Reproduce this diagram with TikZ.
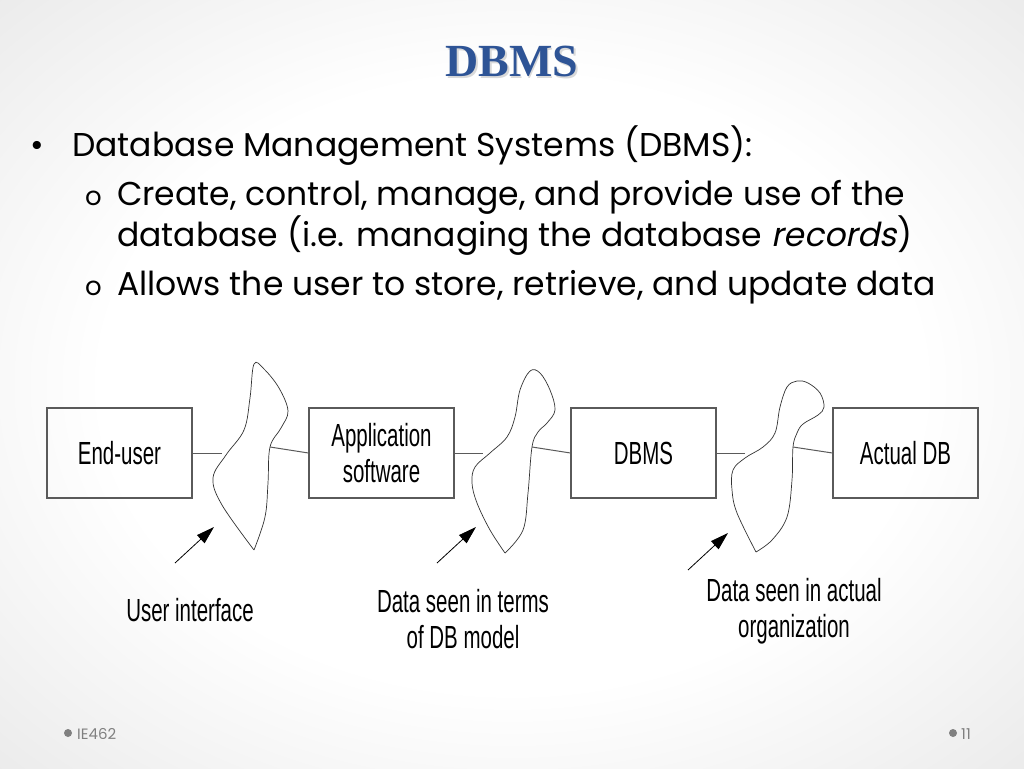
\documentclass[tikz,border=0pt]{standalone}
\usepackage{fontspec}
\setmainfont{Poppins}[ItalicFont=Poppins, ItalicFeatures={FakeSlant=0.2}]
\newfontfamily\narrowfont[FakeStretch=0.64]{Liberation Sans}
\newfontfamily\titlefont{Liberation Serif}
\usetikzlibrary{arrows.meta}
\definecolor{titleblue}{RGB}{46,84,150}
\definecolor{boxgray}{RGB}{90,90,90}
\pgfdeclareradialshading{slidebg}{\pgfpoint{0bp}{0bp}}{color(0bp)=(white); color(20bp)=(white); color(40bp)=(gray!20); color(50bp)=(gray!30); color(72bp)=(gray!40)}

\begin{document}
\begin{tikzpicture}[x=1pt, y=-1pt,
   box/.style={draw=boxgray, line width=1.1pt, minimum width=145pt, minimum height=90pt, inner sep=0pt, align=center, font=\narrowfont\fontsize{32}{36}\selectfont},
   link/.style={draw=boxgray, line width=1pt},
   iface/.style={draw=black!80, line width=0.7pt},
   pointer/.style={line width=0.8pt, -{Triangle[length=18pt, width=11pt]}},
   caption/.style={align=center, font=\narrowfont\fontsize{32}{36}\selectfont},
   body/.style={anchor=base west, inner sep=0pt, font=\fontsize{33}{38}\selectfont},
   sub/.style={anchor=base west, inner sep=0pt, font=\fontsize{26}{30}\selectfont},
   footer/.style={anchor=base west, inner sep=0pt, text=gray, font=\fontsize{15}{18}\selectfont}]

   % 背景
   \useasboundingbox (0,0) rectangle (1024,768);
   \shade [shading=slidebg] (0,0) rectangle (1024,768);

   % 表題
   \node [anchor=base, text=gray!30, font=\titlefont\bfseries\fontsize{46}{50}\selectfont] (titleshadow) at (513.5,78.5) {DBMS};
   \node [anchor=base, text=titleblue, font=\titlefont\bfseries\fontsize{46}{50}\selectfont] (title) at (512,77) {DBMS};

   % 箇条書き
   \node [body] (dot1) at (30,156) {•};
   \node [body] (item1) at (72,156) {Database Management Systems (DBMS):};
   \node [sub] (o1) at (85,205) {o};
   \node [body] (item2) at (117,205) {Create, control, manage, and provide use of the};
   \node [body] (item2b) at (117,246) {database (i.e. managing the database \textit{records})};
   \node [sub] (o2) at (85,295) {o};
   \node [body] (item3) at (117,295) {Allows the user to store, retrieve, and update data};

   % 箱
   \node [box] (enduser) at (119.5,453) {End-user};
   \node [box] (app) at (381.5,453) {Application\\software};
   \node [box] (dbms) at (643.5,453) {DBMS};
   \node [box] (actualdb) at (905.5,453) {Actual DB};

   % 境界
   \draw [iface] plot[smooth, tension=0.6] coordinates {(254,550) (222,505) (213,478) (226,455) (244,430) (250,398) (254,364) (264,369) (279,388) (288,411) (281,428) (270,447) (268,483) (265,517) (254,550)};
   \draw [iface] plot[smooth, tension=0.6] coordinates {(505,553) (490,530) (477,503) (472,483) (475,467) (490,453) (507,437) (515,417) (520,390) (530,371) (540,373) (550,390) (555,410) (547,423) (538,432) (532,447) (528,493) (523,530) (505,553)};
   \draw [iface] plot[smooth, tension=0.6] coordinates {(756,552) (737,513) (732,490) (733,470) (745,458) (763,447) (775,433) (780,407) (787,387) (797,381) (808,383) (820,393) (824,407) (818,415) (803,424) (797,433) (793,447) (792,480) (787,517) (772,540) (756,552)};
   \coordinate (gap1) at (222,453);
   \coordinate (gap2) at (483,453);
   \coordinate (gap3) at (745,453);
   \coordinate (join1) at (270,447);
   \coordinate (join2) at (532,447);
   \coordinate (join3) at (793,447);

   % 接続線
   \draw [link] (enduser.east) -- (gap1);
   \draw [link] (join1) -- (app.west);
   \draw [link] (app.east) -- (gap2);
   \draw [link] (join2) -- (dbms.west);
   \draw [link] (dbms.east) -- (gap3);
   \draw [link] (join3) -- (actualdb.west);

   % 矢印と説明
   \coordinate (uitail) at (175,563);
   \coordinate (uihead) at (214,527);
   \coordinate (modeltail) at (437,563);
   \coordinate (modelhead) at (476,527);
   \coordinate (orgtail) at (688,570);
   \coordinate (orghead) at (728,533);
   \draw [pointer] (uitail) -- (uihead);
   \draw [pointer] (modeltail) -- (modelhead);
   \draw [pointer] (orgtail) -- (orghead);
   \node [caption] (uilabel) at (190,610) {User interface};
   \node [caption] (modellabel) at (463,619) {Data seen in terms\\of DB model};
   \node [caption] (orglabel) at (794,611) {Data seen in actual\\organization};

   % 脚注
   \fill [gray] (68,733) circle (4);
   \node [footer] (course) at (77,739) {IE462};
   \fill [gray] (953,733) circle (4);
   \node [footer] (page) at (961,739) {11};

\end{tikzpicture}
\end{document}
